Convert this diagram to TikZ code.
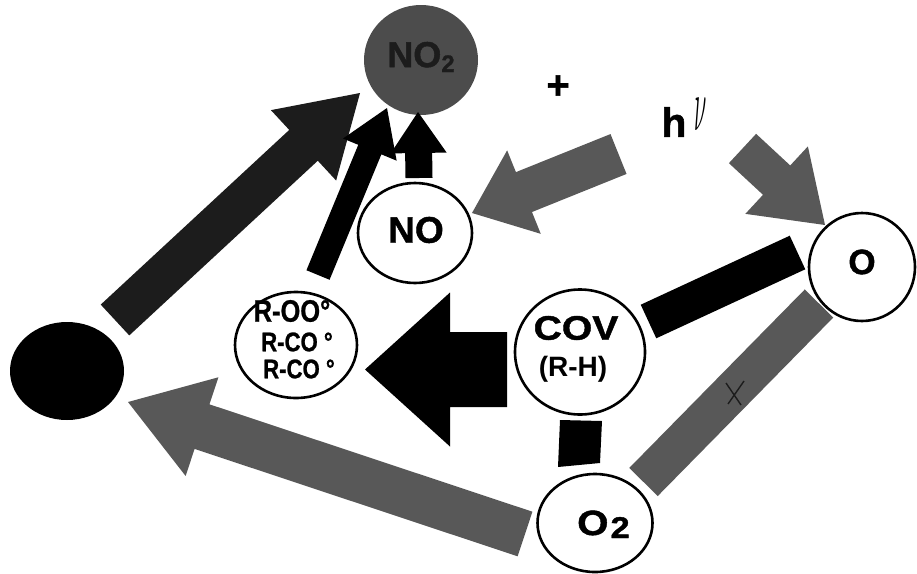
\documentclass[tikz,border=0pt]{standalone}
\usepackage{fontspec}
\setmainfont{Liberation Sans}
\newfontfamily\heavy[FakeBold=1.2]{Liberation Sans}
\newfontfamily\heavywide[FakeBold=1.2,FakeStretch=1.15]{Liberation Sans}
\newfontfamily\narrowfont[FakeBold=0.8,FakeStretch=0.82]{Liberation Sans}
\usetikzlibrary{calc,shapes.geometric}

\definecolor{halftone}{HTML}{585858}
\definecolor{nearblack}{HTML}{1C1C1C}
\definecolor{discgray}{HTML}{4C4C4C}

% fat arrow: [style]{tail}{tip}{shaft half width}{head half width}{head length}
\newcommand\blockarrow[6][]{%
  \path ($(#3)!#6!(#2)$) coordinate (ba-base);
  \fill[#1] ($(#2)!#4!90:(#3)$) -- ($(ba-base)!#4!90:(#3)$) -- ($(ba-base)!#5!90:(#3)$)
    -- (#3) -- ($(ba-base)!#5!-90:(#3)$) -- ($(ba-base)!#4!-90:(#3)$) -- ($(#2)!#4!-90:(#3)$) -- cycle;}
% thick bar: [style]{end}{end}{half width}
\newcommand\blockbar[4][]{%
  \fill[#1] ($(#2)!#4!90:(#3)$) -- ($(#3)!#4!-90:(#2)$) -- ($(#3)!#4!90:(#2)$) -- ($(#2)!#4!-90:(#3)$) -- cycle;}

\tikzset{
  ring/.style={ellipse, draw=black, line width=2.6pt, fill=white, inner sep=0pt},
  disc/.style={ellipse, inner sep=0pt},
  txt/.style={inner sep=0pt, font=\bfseries},
}

\begin{document}
\begin{tikzpicture}[x=1pt,y=-1pt]
\useasboundingbox (0,0) rectangle (917,573);

% NO2 disc (drawn first, arrows end on it)
\node[disc, fill=discgray, minimum width=114pt, minimum height=110pt] (no2) at (421,60) {};
\node[txt, text=nearblack] (no2txt) at (421,57) {\heavy\bfseries\fontsize{36}{40}\selectfont NO\raisebox{-5pt}{\fontsize{24}{26}\selectfont 2}};

% dark left disc
\node[disc, fill=black, minimum width=114pt, minimum height=98pt] (dark) at (67,371) {};

% arrow end points
\coordinate (bigT) at (115,320);    \coordinate (bigH) at (360,93);
\coordinate (rooT) at (318,275);    \coordinate (rooH) at (387,108);
\coordinate (noT)  at (419,178);    \coordinate (noH)  at (418,112);
\coordinate (hvT)  at (618.5,154);  \coordinate (hvH)  at (472,213);
\coordinate (hoT)  at (742.5,148.5);\coordinate (hoH)  at (825,225);
\coordinate (covT) at (507,369.5);  \coordinate (covH) at (365,369.5);
\coordinate (o2T)  at (525,534);    \coordinate (o2H)  at (128,402);
\coordinate (barA) at (648.5,321.5);\coordinate (barB) at (797.5,252.5);
\coordinate (grA)  at (643.5,482);  \coordinate (grB)  at (819,303.5);

% arrows
\blockarrow[fill=nearblack]{bigT}{bigH}{21pt}{48pt}{77pt}
\blockarrow[fill=black]{rooT}{rooH}{12.5pt}{29pt}{45pt}
\blockarrow[fill=black]{noT}{noH}{13.5pt}{28pt}{41pt}
\blockarrow[fill=halftone]{hvT}{hvH}{21.5pt}{45pt}{56pt}
\blockarrow[fill=halftone]{hoT}{hoH}{20pt}{46pt}{66pt}
\blockarrow[fill=black]{covT}{covH}{37.5pt}{77pt}{85pt}
\blockarrow[fill=halftone]{o2T}{o2H}{23.5pt}{52pt}{78pt}

% bars
\blockbar[fill=black]{barA}{barB}{18.5pt}
\blockbar[fill=halftone]{grA}{grB}{20pt}
\fill[black] (560,420) -- (602,421) -- (600,463) -- (558,467) -- cycle;

% cross on the grey bar
\draw[nearblack, line width=1.4pt] (726,383) -- (741,405) (744,381) -- (728,404);

% white rings
\node[ring, minimum width=114pt, minimum height=100pt] (no) at (415,233) {};
\node[ring, minimum width=122pt, minimum height=106pt] (roo) at (296,345) {};
\node[ring, minimum width=130pt, minimum height=125pt] (cov) at (580,352) {};
\node[ring, minimum width=106pt, minimum height=108pt] (o) at (862,267) {};
\node[ring, minimum width=115pt, minimum height=98pt] (o2) at (595,523) {};

% texts
\node[txt] (notxt) at (416,230) {\heavy\bfseries\fontsize{37}{40}\selectfont NO};
\node[txt] (roo1) at (292,311) {\narrowfont\bfseries\fontsize{31}{32}\selectfont R-OO°};
\node[txt] (roo2) at (297,342) {\narrowfont\bfseries\fontsize{27}{28}\selectfont R-CO °};
\node[txt] (roo3) at (299,369) {\narrowfont\bfseries\fontsize{27}{28}\selectfont R-CO °};
\node[txt] (covtxt) at (576,328) {\heavywide\bfseries\fontsize{34}{36}\selectfont COV};
\node[txt] (rhtxt) at (573,369) {\fontsize{28}{30}\selectfont (R-H)};
\node[txt] (otxt) at (862,262) {\heavy\bfseries\fontsize{35}{38}\selectfont O};
\node[txt, anchor=base west] (o2txt) at (577,535) {\heavywide\bfseries\fontsize{35}{38}\selectfont O\kern2pt\raisebox{-3pt}{\fontsize{30}{32}\selectfont 2}};
\node[txt] (plus) at (558,87) {\heavy\bfseries\fontsize{40}{42}\selectfont +};
\node[txt] (htxt) at (674,122) {\heavy\bfseries\fontsize{41}{44}\selectfont h};
\node[inner sep=0pt] (nutxt) at (701,114) {\scalebox{0.9}[3]{\fontsize{30}{32}\selectfont$\nu$}};
\end{tikzpicture}
\end{document}
